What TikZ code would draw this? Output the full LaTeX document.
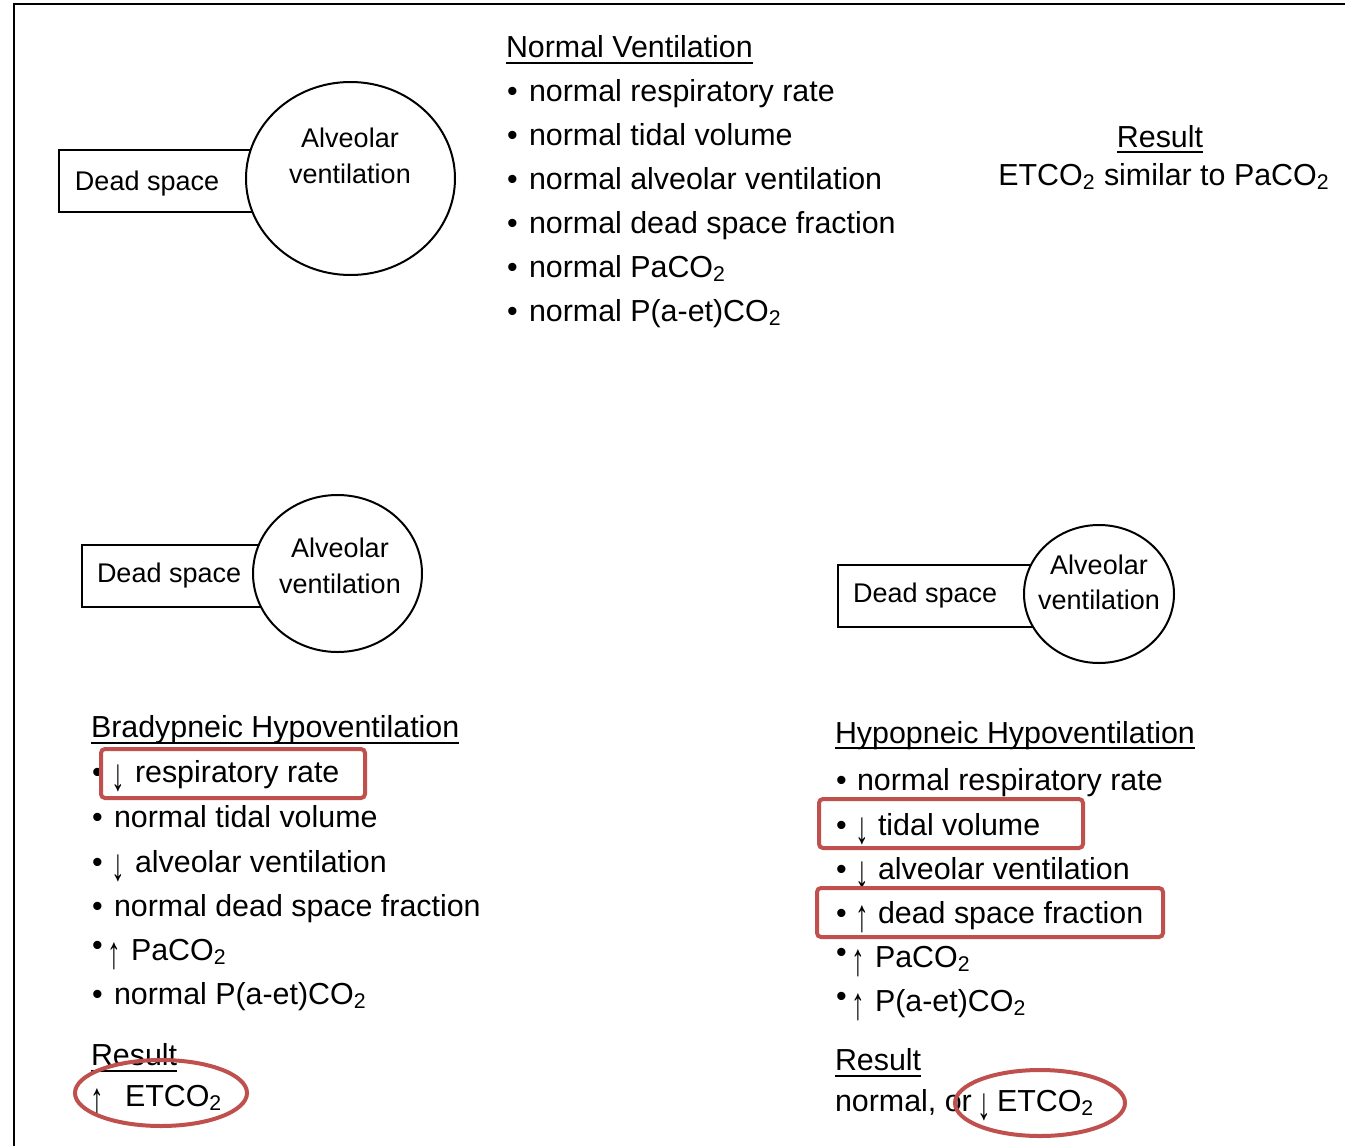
\documentclass[tikz,border=0pt]{standalone}
\usepackage{graphicx}
\usepackage{fontspec}
\setmainfont{Liberation Sans}
\usetikzlibrary{shapes.geometric,calc}
\definecolor{redmark}{HTML}{C0504D}
\newcommand{\tallarrow}[1]{\raisebox{-4pt}{\scalebox{0.9}[1.5]{#1}}}
\begin{document}
\begin{tikzpicture}[x=0.5pt,y=-0.5pt,
  tx/.style={inner sep=0pt, outer sep=0pt, font=\fontsize{15.2}{18}\selectfont, anchor=base west},
  tc/.style={inner sep=0pt, outer sep=0pt, font=\fontsize{15.2}{18}\selectfont, anchor=base},
  lb/.style={inner sep=0pt, outer sep=0pt, font=\fontsize{13.5}{16}\selectfont, anchor=base},
  lbw/.style={inner sep=0pt, outer sep=0pt, font=\fontsize{13.5}{16}\selectfont, anchor=base west},
  dsbox/.style={draw, line width=1pt, rectangle, inner sep=0pt, minimum height=31pt},
  alv/.style={draw, line width=1pt, ellipse, fill=white, inner sep=0pt},
  redbox/.style={draw=redmark, line width=2pt, rectangle, rounded corners=2pt, inner sep=0pt},
  redoval/.style={draw=redmark, line width=2pt, ellipse, inner sep=0pt},
  uline/.style={line width=1pt}]
\useasboundingbox (0,0) rectangle (1345,1146);
\fill[white] (0,0) rectangle (1345,1146);
% frame
\coordinate (fBL) at (14,1146);
\coordinate (fTL) at (14,4);
\coordinate (fTR) at (1345,4);
\draw[line width=1.1pt] (fBL) -- (fTL) -- (fTR);

% ---------- top diagram ----------
\node[dsbox, minimum width=105.5pt] (ds1) at (164.5,181) {};
\node[alv, minimum width=104.5pt, minimum height=96.5pt] (av1) at (350.5,178.5) {};
\node[lbw] (ds1t) at (75,190) {Dead space};
\node[lb] (av1a) at (350,147) {Alveolar};
\node[lb] (av1b) at (350,183) {ventilation};

% top list
\node[tx] (h0) at (506,57) {Normal Ventilation};
\draw[uline] ($(h0.base west)+(0,6)$) -- ($(h0.base east)+(0,6)$);
\foreach \i/\y/\t in {1/101/normal respiratory rate, 2/145/normal tidal volume, 3/189/normal alveolar ventilation, 4/233/normal dead space fraction, 5/277/normal PaCO\textsubscript{2}, 6/321/normal P(a-et)CO\textsubscript{2}}{
  \node[tx] (tb\i) at (507,\y) {•};
  \node[tx] (tt\i) at (529,\y) {\t};
}

% top-right result
\node[tc] (r0) at (1160,147) {Result};
\draw[uline] ($(r0.base west)+(0,5)$) -- ($(r0.base east)+(0,5)$);
\node[tc] (r0t) at (1164,185) {ETCO\textsubscript{2} similar to PaCO\textsubscript{2}};

% ---------- bottom-left diagram ----------
\node[dsbox, minimum width=99pt] (ds2) at (181,576) {};
\node[alv, minimum width=84.5pt, minimum height=78.5pt] (av2) at (337.5,573.5) {};
\node[lbw] (ds2t) at (97,582) {Dead space};
\node[lb] (av2a) at (340,557) {Alveolar};
\node[lb] (av2b) at (340,593) {ventilation};

\node[tx] (h1) at (91,737) {Bradypneic Hypoventilation};
\draw[uline] ($(h1.base west)+(0,6)$) -- ($(h1.base east)+(0,6)$);
% bullets
\node[tx] (lb1) at (92,782) {•};
\node[tx] (lb2) at (92,827) {•};
\node[tx] (lb3) at (92,872) {•};
\node[tx] (lb4) at (92,916) {•};
\node[tx] (lb5) at (92,955) {•};
\node[tx] (lb6) at (92,1004) {•};
% arrows
\node[tc] (la1) at (118,782) {\tallarrow{↓}};
\node[tc] (la3) at (118,872) {\tallarrow{↓}};
\node[tc] (la5) at (114,960) {\tallarrow{↑}};
% texts
\node[tx] (lt1) at (135,782) {respiratory rate};
\node[tx] (lt2) at (114,827) {normal tidal volume};
\node[tx] (lt3) at (135,872) {alveolar ventilation};
\node[tx] (lt4) at (114,916) {normal dead space fraction};
\node[tx] (lt5) at (131,960) {PaCO\textsubscript{2}};
\node[tx] (lt6) at (114,1004) {normal P(a-et)CO\textsubscript{2}};

\node[tx] (lr) at (91,1065) {Result};
\draw[uline] ($(lr.base west)+(0,6)$) -- ($(lr.base east)+(0,6)$);
\node[tc] (lra) at (97,1106) {\tallarrow{↑}};
\node[tx] (lrt) at (125,1106) {ETCO\textsubscript{2}};

% ---------- bottom-right diagram ----------
\node[dsbox, minimum width=106pt] (ds3) at (944,596) {};
\node[alv, minimum width=75pt, minimum height=69pt] (av3) at (1099,594) {};
\node[lbw] (ds3t) at (853,602) {Dead space};
\node[lb] (av3a) at (1099,574) {Alveolar};
\node[lb] (av3b) at (1099,609) {ventilation};

\node[tx] (h2) at (835,743) {Hypopneic Hypoventilation};
\draw[uline] ($(h2.base west)+(0,5)$) -- ($(h2.base east)+(0,5)$);
\node[tx] (rb1) at (836,790) {•};
\node[tx] (rb2) at (836,835) {•};
\node[tx] (rb3) at (836,879) {•};
\node[tx] (rb4) at (836,923) {•};
\node[tx] (rb5) at (836,962) {•};
\node[tx] (rb6) at (836,1006) {•};
\node[tc] (ra2) at (862,835) {\tallarrow{↓}};
\node[tc] (ra3) at (862,879) {\tallarrow{↓}};
\node[tc] (ra4) at (862,923) {\tallarrow{↑}};
\node[tc] (ra5) at (858,967) {\tallarrow{↑}};
\node[tc] (ra6) at (858,1011) {\tallarrow{↑}};
\node[tx] (rt1) at (857,790) {normal respiratory rate};
\node[tx] (rt2) at (878,835) {tidal volume};
\node[tx] (rt3) at (878,879) {alveolar ventilation};
\node[tx] (rt4) at (878,923) {dead space fraction};
\node[tx] (rt5) at (875,967) {PaCO\textsubscript{2}};
\node[tx] (rt6) at (875,1011) {P(a-et)CO\textsubscript{2}};

\node[tx] (rr) at (835,1070) {Result};
\draw[uline] ($(rr.base west)+(0,6)$) -- ($(rr.base east)+(0,6)$);
\node[tx] (rrt) at (835,1111) {normal, or};
\node[tc] (rra) at (984,1111) {\tallarrow{↓}};
\node[tx] (rre) at (997,1111) {ETCO\textsubscript{2}};

% ---------- red marks ----------
\node[redbox, minimum width=132pt, minimum height=24.5pt] (mk1) at (233,773.5) {};
\node[redbox, minimum width=132pt, minimum height=24.5pt] (mk2) at (951,823.5) {};
\node[redbox, minimum width=173pt, minimum height=24.5pt] (mk3) at (990,912.5) {};
\node[redoval, minimum width=86pt, minimum height=33pt] (ov1) at (161,1093) {};
\node[redoval, minimum width=85pt, minimum height=33pt] (ov2) at (1040,1103) {};
\end{tikzpicture}
\end{document}
